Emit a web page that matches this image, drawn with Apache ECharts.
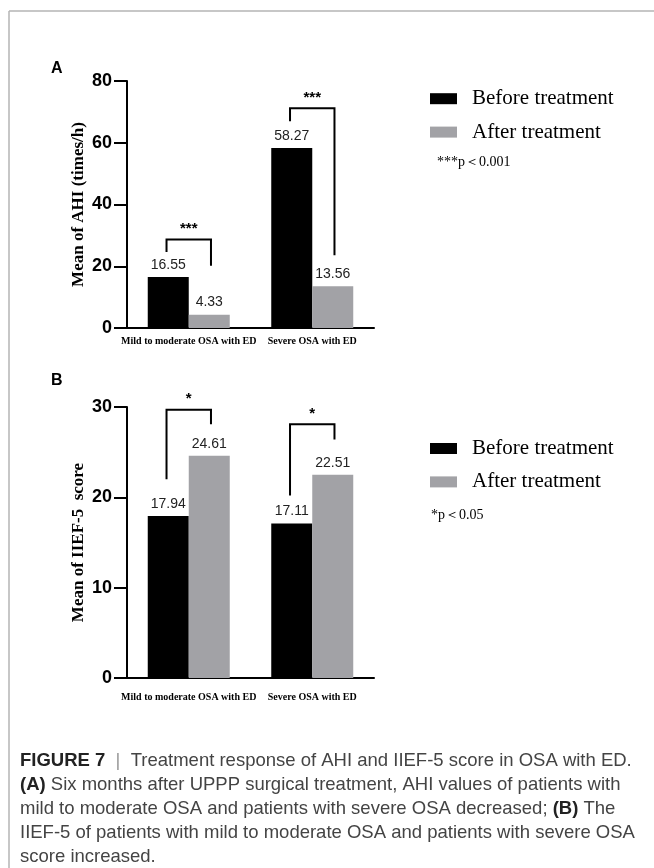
<!DOCTYPE html>
<html>
<head>
<meta charset="utf-8">
<script src="https://cdn.jsdelivr.net/npm/echarts@6/dist/echarts.min.js"></script>
<style>
html,body{margin:0;padding:0;background:#fff;}
#chart{width:654px;height:868px;}
</style>
</head>
<body>
<div id="chart"></div>
<script>
// ---- data ----
const categories = ['Mild to moderate OSA with ED', 'Severe OSA with ED'];
const seriesNames = ['Before treatment', 'After treatment'];
const ahiBefore = [16.55, 58.27];
const ahiAfter = [4.33, 13.56];
const iiefBefore = [17.94, 17.11];
const iiefAfter = [24.61, 22.51];
// brackets: [category index, top value, left end value, right end value]
const bracketsA = [[0, 28.7, 24.6, 20.2], [1, 71.2, 67.0, 23.6]];
const bracketsB = [[0, 29.7, 22.0, 28.1], [1, 28.1, 20.2, 26.4]];
const starsA = ['***', '***'];
const starsB = ['*', '*'];
const yTicksA = {min: 0, max: 80, interval: 20};
const yTicksB = {min: 0, max: 30, interval: 10};
const noteA = '***p\uFF1C0.001';
const noteB = '*p\uFF1C0.05';

const BLACK = '#000000';
const GRAY = '#a2a2a6';
const SANS = '"Liberation Sans", Arial, sans-serif';
const SERIF = '"Liberation Serif", "Times New Roman", serif';

const chart = echarts.init(document.getElementById('chart'), null, {renderer: 'canvas'});

function bracketRenderer(stars) {
  return function (params, api) {
    const c = api.value(0);
    const band = api.size([1, 0])[0];
    const off = band * 0.18;
    const pTop = api.coord([c, api.value(1)]);
    const x = pTop[0], yTop = pTop[1];
    const yL = api.coord([c, api.value(2)])[1];
    const yR = api.coord([c, api.value(3)])[1];
    return {
      type: 'group',
      children: [
        {type: 'polyline', shape: {points: [[x - off, yL], [x - off, yTop], [x + off, yTop], [x + off, yR]]},
          style: {stroke: '#000', lineWidth: 2, fill: null}},
        {type: 'text', x: x, y: yTop - 3,
          style: {text: stars[params.dataIndex], fill: '#000', font: 'bold 15px ' + SANS, align: 'center', verticalAlign: 'bottom'}}
      ]
    };
  };
}

function xAxisCfg(gridIndex, margin) {
  return {
    type: 'category', gridIndex: gridIndex, data: categories,
    axisLine: {lineStyle: {color: '#000', width: 2}},
    axisTick: {alignWithLabel: true, length: 10, lineStyle: {color: '#000', width: 2}},
    axisLabel: {color: '#000', fontFamily: SERIF, fontWeight: 'bold', fontSize: 10, margin: margin, interval: 0}
  };
}
function yAxisCfg(gridIndex, ticks, name) {
  return {
    type: 'value', gridIndex: gridIndex, min: ticks.min, max: ticks.max, interval: ticks.interval,
    name: name, nameLocation: 'middle', nameGap: 40,
    nameTextStyle: {color: '#000', fontFamily: SERIF, fontWeight: 'bold', fontSize: 17},
    axisLine: {show: true, lineStyle: {color: '#000', width: 2}},
    axisTick: {show: true, length: 13, lineStyle: {color: '#000', width: 2}},
    axisLabel: {color: '#000', fontFamily: SANS, fontWeight: 'bold', fontSize: 18, margin: 15},
    splitLine: {show: false}
  };
}
function barSeries(name, data, color, xi) {
  return {
    type: 'bar', name: name, data: data, xAxisIndex: xi, yAxisIndex: xi,
    barWidth: 41, barGap: '0%',
    itemStyle: {color: color},
    label: {show: true, position: 'top', distance: 5, color: '#222', fontFamily: SANS, fontSize: 14},
    z: 2
  };
}

const legendBase = {
  orient: 'vertical', left: 430, itemWidth: 27, itemHeight: 11, itemGap: 11.4, padding: 0,
  icon: 'rect',
  textStyle: {color: '#000', fontFamily: SERIF, fontSize: 21, lineHeight: 22, padding: [0, 0, 0, 10]},
  data: seriesNames, selectedMode: false
};

const caption = [
  '{fb|FIGURE 7}{n|  }{bar||}{n|  Treatment response of AHI and IIEF-5 score in OSA with ED.}',
  '{b|(A)}{n| Six months after UPPP surgical treatment, AHI values of patients with}',
  '{n|mild to moderate OSA and patients with severe OSA decreased; }{b|(B)}{n| The}',
  '{n|IIEF-5 of patients with mild to moderate OSA and patients with severe OSA}',
  '{n|score increased.}'
].join('\n');

const LH = 24;
const CF = 18.5;
const option = {
  animation: false,
  backgroundColor: '#fff',
  grid: [
    {left: 127, top: 81, width: 247, height: 247},
    {left: 127, top: 407, width: 247, height: 271}
  ],
  xAxis: [xAxisCfg(0, 8), xAxisCfg(1, 14)],
  yAxis: [yAxisCfg(0, yTicksA, 'Mean of AHI (times/h)'), yAxisCfg(1, yTicksB, 'Mean of IIEF-5  score')],
  legend: [
    Object.assign({}, legendBase, {top: 87.7}),
    Object.assign({}, legendBase, {top: 437.5})
  ],
  series: [
    barSeries(seriesNames[0], ahiBefore, BLACK, 0),
    barSeries(seriesNames[1], ahiAfter, GRAY, 0),
    barSeries(seriesNames[0], iiefBefore, BLACK, 1),
    barSeries(seriesNames[1], iiefAfter, GRAY, 1),
    {type: 'custom', xAxisIndex: 0, yAxisIndex: 0, data: bracketsA, renderItem: bracketRenderer(starsA), z: 3, silent: true},
    {type: 'custom', xAxisIndex: 1, yAxisIndex: 1, data: bracketsB, renderItem: bracketRenderer(starsB), z: 3, silent: true}
  ],
  graphic: [
    {type: 'line', shape: {x1: 9, y1: 11, x2: 654, y2: 11}, style: {stroke: '#b4b4b4', lineWidth: 1.5}},
    {type: 'line', shape: {x1: 9, y1: 11, x2: 9, y2: 868}, style: {stroke: '#b4b4b4', lineWidth: 1.5}},
    {type: 'text', left: 51, top: 61, style: {text: 'A', font: 'bold 16px ' + SANS, fill: '#000'}},
    {type: 'text', left: 51, top: 373, style: {text: 'B', font: 'bold 16px ' + SANS, fill: '#000'}},
    {type: 'text', x: 437, y: 162, style: {text: noteA, font: '14px ' + SERIF, fill: '#000', verticalAlign: 'middle'}},
    {type: 'text', x: 431, y: 515, style: {text: noteB, font: '14px ' + SERIF, fill: '#000', verticalAlign: 'middle'}},
    {type: 'text', x: 20, y: 749, style: {
      text: caption, fill: '#333', lineHeight: LH,
      rich: {
        fb: {fontFamily: SANS, fontWeight: 'bold', fontSize: CF, fill: '#222', lineHeight: LH},
        b: {fontFamily: SANS, fontWeight: 'bold', fontSize: CF, fill: '#222', lineHeight: LH},
        n: {fontFamily: SANS, fontSize: CF, fill: '#444', lineHeight: LH},
        bar: {fontFamily: SANS, fontSize: CF, fill: '#999', lineHeight: LH}
      }
    }}
  ]
};
chart.setOption(option);
</script>
</body>
</html>
